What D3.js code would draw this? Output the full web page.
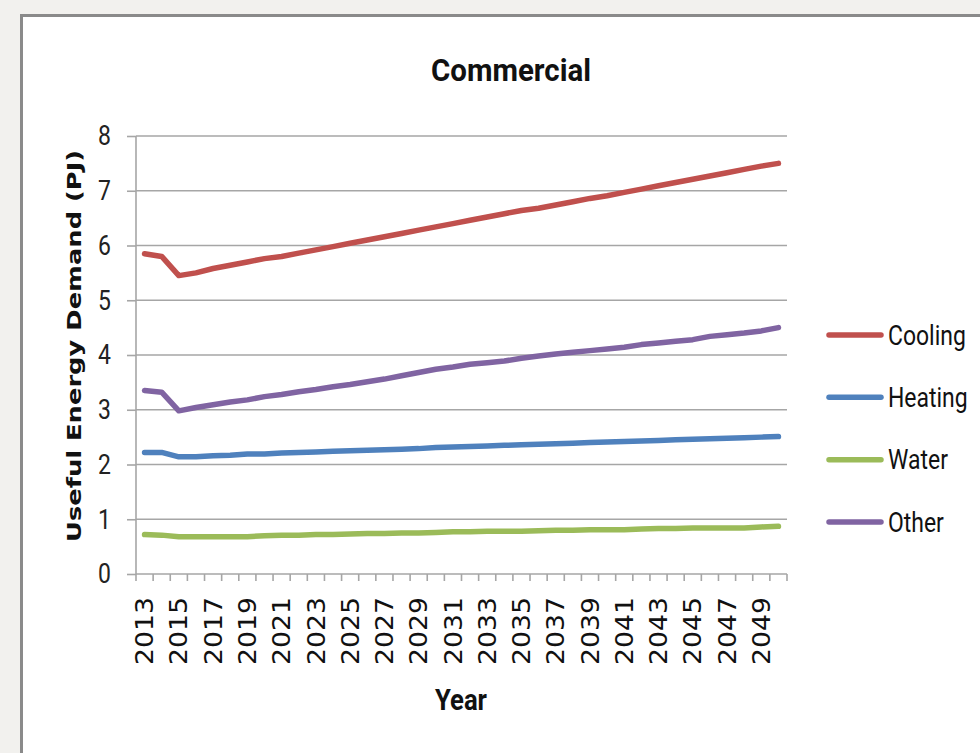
<!DOCTYPE html>
<html>
<head>
<meta charset="utf-8">
<script src="https://cdn.jsdelivr.net/npm/d3@7"></script>
<style>
  html, body { margin: 0; padding: 0; background: #f2f1ee; }
  svg { display: block; }
</style>
</head>
<body>
<svg id="chart" width="980" height="753"></svg>
<script>
// Useful energy demand by end use, commercial sector (PJ)
const years = d3.range(2013, 2051);
const seriesNames = ["Cooling", "Heating", "Water", "Other"];
const seriesColors = ["#c0504d", "#4f81bd", "#9bbb59", "#8064a2"];
const yTicks = [0, 1, 2, 3, 4, 5, 6, 7, 8];

const cooling = [5.85, 5.80, 5.45, 5.50, 5.58, 5.64, 5.70, 5.76, 5.80, 5.86,
  5.92, 5.98, 6.04, 6.10, 6.16, 6.22, 6.28, 6.34, 6.40, 6.46,
  6.52, 6.58, 6.64, 6.68, 6.74, 6.80, 6.86, 6.91, 6.97, 7.03,
  7.09, 7.15, 7.21, 7.27, 7.33, 7.39, 7.45, 7.50];
const heating = [2.22, 2.22, 2.14, 2.14, 2.16, 2.17, 2.19, 2.19, 2.21, 2.22,
  2.23, 2.24, 2.25, 2.26, 2.27, 2.28, 2.29, 2.31, 2.32, 2.33,
  2.34, 2.35, 2.36, 2.37, 2.38, 2.39, 2.40, 2.41, 2.42, 2.43,
  2.44, 2.45, 2.46, 2.47, 2.48, 2.49, 2.50, 2.51];
const water = [0.72, 0.71, 0.68, 0.68, 0.68, 0.68, 0.68, 0.70, 0.71, 0.71,
  0.72, 0.72, 0.73, 0.74, 0.74, 0.75, 0.75, 0.76, 0.77, 0.77,
  0.78, 0.78, 0.78, 0.79, 0.80, 0.80, 0.81, 0.81, 0.81, 0.82,
  0.83, 0.83, 0.84, 0.84, 0.84, 0.84, 0.86, 0.87];
const other = [3.35, 3.32, 2.98, 3.04, 3.09, 3.14, 3.18, 3.24, 3.28, 3.33,
  3.37, 3.42, 3.46, 3.51, 3.56, 3.62, 3.68, 3.74, 3.78, 3.83,
  3.86, 3.89, 3.94, 3.98, 4.02, 4.05, 4.08, 4.11, 4.14, 4.19,
  4.22, 4.25, 4.28, 4.34, 4.37, 4.40, 4.44, 4.50];

const seriesValues = [cooling, heating, water, other];

const svg = d3.select("#chart");
const narrow = "'Liberation Sans Narrow', 'Arial Narrow', Roboto, sans-serif";
const wide = "'DejaVu Sans', Verdana, sans-serif";
// horizontal squeeze that gives the sans text a condensed look
const condense = 0.82;

// White chart panel with grey frame
svg.append("rect")
  .attr("x", 21.5).attr("y", 15.5)
  .attr("width", 980).attr("height", 760)
  .attr("fill", "#ffffff")
  .attr("stroke", "#8a8a8a")
  .attr("stroke-width", 3);

const plot = { left: 136, right: 787, top: 136, bottom: 574 };

const x = d3.scaleBand()
  .domain(years)
  .range([plot.left, plot.right]);

const y = d3.scaleLinear()
  .domain([0, 8])
  .range([plot.bottom, plot.top]);

// Horizontal gridlines
svg.append("g")
  .selectAll("line")
  .data(yTicks.filter(d => d > 0))
  .join("line")
  .attr("x1", plot.left).attr("x2", plot.right)
  .attr("y1", d => y(d)).attr("y2", d => y(d))
  .attr("stroke", "#a6a6a6")
  .attr("stroke-width", 1.6);

// Y axis
const yAxis = svg.append("g")
  .attr("transform", `translate(${plot.left},0)`)
  .call(d3.axisLeft(y).tickValues(yTicks).tickSize(9).tickPadding(16));
yAxis.selectAll("line, path").attr("stroke", "#a6a6a6").attr("stroke-width", 1.6);
yAxis.select(".domain").attr("d", `M0,${plot.top}V${plot.bottom}`);
yAxis.selectAll(".tick text")
  .attr("font-family", narrow)
  .attr("font-size", 28)
  .attr("fill", "#222")
  .attr("transform", function () {
    const x0 = +d3.select(this).attr("x");
    return `translate(${x0},0) scale(${condense},1) translate(${-x0},0)`;
  });

// X axis: ticks on category boundaries, labels every second year
const xAxisG = svg.append("g")
  .attr("transform", `translate(0,${plot.bottom})`);
xAxisG.append("line")
  .attr("x1", plot.left).attr("x2", plot.right)
  .attr("y1", 0).attr("y2", 0)
  .attr("stroke", "#a6a6a6").attr("stroke-width", 1.6);
const boundaries = years.map(d => x(d)).concat([plot.right]);
xAxisG.selectAll("line.tick")
  .data(boundaries)
  .join("line")
  .attr("class", "tick")
  .attr("x1", d => d).attr("x2", d => d)
  .attr("y1", 0).attr("y2", 7)
  .attr("stroke", "#a6a6a6").attr("stroke-width", 1.6);
xAxisG.selectAll("text")
  .data(years.filter((d, i) => i % 2 === 0))
  .join("text")
  .attr("transform", d => `translate(${x(d) + x.bandwidth() / 2},${23}) rotate(-90)`)
  .attr("text-anchor", "end")
  .attr("dy", "0.36em")
  .attr("font-family", wide)
  .attr("font-size", 24)
  .attr("textLength", 68)
  .attr("lengthAdjust", "spacingAndGlyphs")
  .attr("fill", "#111")
  .text(d => d);

// Lines
const line = d3.line()
  .x((d, i) => x(years[i]) + x.bandwidth() / 2)
  .y(d => y(d));

svg.append("g")
  .selectAll("path")
  .data(seriesValues)
  .join("path")
  .attr("d", d => line(d))
  .attr("fill", "none")
  .attr("stroke", (d, i) => seriesColors[i])
  .attr("stroke-width", 5.5)
  .attr("stroke-linejoin", "round")
  .attr("stroke-linecap", "round");

// Title
svg.append("text")
  .attr("x", 511).attr("y", 81)
  .attr("text-anchor", "middle")
  .attr("font-family", narrow)
  .attr("font-weight", "bold")
  .attr("font-size", 32)
  .attr("textLength", 160)
  .attr("lengthAdjust", "spacingAndGlyphs")
  .attr("fill", "#111")
  .text("Commercial");

// Axis titles
svg.append("text")
  .attr("transform", `translate(81,${(136 + 548) / 2 + 4}) rotate(-90)`)
  .attr("text-anchor", "middle")
  .attr("font-family", wide)
  .attr("font-weight", "bold")
  .attr("font-size", 20)
  .attr("textLength", 392)
  .attr("lengthAdjust", "spacingAndGlyphs")
  .attr("fill", "#111")
  .text("Useful Energy Demand (PJ)");

svg.append("text")
  .attr("x", 461).attr("y", 710)
  .attr("text-anchor", "middle")
  .attr("font-family", narrow)
  .attr("font-weight", "bold")
  .attr("font-size", 29)
  .attr("textLength", 52)
  .attr("lengthAdjust", "spacingAndGlyphs")
  .attr("fill", "#111")
  .text("Year");

// Legend
const legendY = d3.scalePoint()
  .domain(seriesNames)
  .range([335, 522]);
const legend = svg.append("g")
  .selectAll("g")
  .data(seriesNames)
  .join("g")
  .attr("transform", d => `translate(0,${legendY(d)})`);
legend.append("line")
  .attr("x1", 829).attr("x2", 881)
  .attr("stroke", (d, i) => seriesColors[i])
  .attr("stroke-width", 5.5)
  .attr("stroke-linecap", "round");
legend.append("text")
  .attr("transform", `translate(888,0) scale(${condense},1)`)
  .attr("dy", "0.35em")
  .attr("font-family", narrow)
  .attr("font-size", 28)
  .attr("fill", "#111")
  .text(d => d);
</script>
</body>
</html>
